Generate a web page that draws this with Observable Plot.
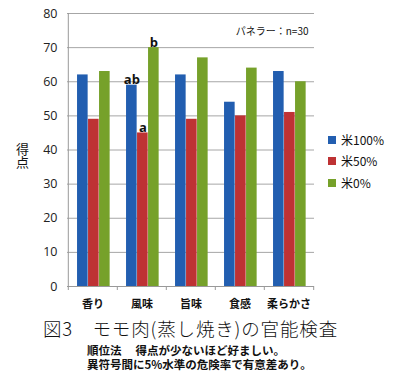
<!DOCTYPE html>
<html>
<head>
<meta charset="utf-8">
<script src="https://cdn.jsdelivr.net/npm/d3@7"></script>
<script src="https://cdn.jsdelivr.net/npm/@observablehq/plot@0.6"></script>
<style>
  html, body { margin: 0; padding: 0; background: #fff; }
  #wrap { position: relative; width: 399px; height: 392px; background: #fff; overflow: hidden;
          font-family: "Noto Sans CJK JP", "Noto Sans", sans-serif; color: #111; }
  #chart { position: absolute; left: 0; top: 0; }
  .abs { position: absolute; white-space: nowrap; }
  .leg { position: absolute; left: 328px; font-size: 12px; line-height: 14px; display: flex; align-items: center; }
  .leg span.sw { display: inline-block; width: 8px; height: 8px; margin-right: 5px; }
</style>
</head>
<body>
<div id="wrap">
  <div id="chart"></div>
  <div id="ylabel" class="abs" style="left:15px;top:143px;font-size:13px;line-height:14px;writing-mode:vertical-rl;text-orientation:upright;"></div>
  <div id="legend"></div>
  <div id="title" class="abs" style="left:43px;top:316px;font-size:18.5px;line-height:24px;font-weight:300;letter-spacing:0.85px;"></div>
  <div id="notes" class="abs" style="left:87px;top:343px;font-size:11.5px;line-height:14px;font-weight:bold;white-space:pre;"></div>
</div>
<script>
const categories = ["香り", "風味", "旨味", "食感", "柔らかさ"];
const seriesNames = ["米100%", "米50%", "米0%"];
const rice100 = [62, 59, 62, 54, 63];
const rice50 = [49, 45, 49, 50, 51];
const rice0 = [63, 70, 67, 64, 60];
const seriesColors = ["#225eb0", "#be3234", "#76a12a"];
const yTicks = [0, 10, 20, 30, 40, 50, 60, 70, 80];
const sigCats = ["風味", "風味", "風味"];
const sigSeries = ["米100%", "米50%", "米0%"];
const sigText = ["ab", "a", "b"];
const panelNote = "パネラー：n=30";
const yLabel = "得点";
const titleText = "図3\u3000モモ肉(蒸し焼き)の官能検査";
const note1Text = "順位法\u3000 得点が少ないほど好ましい。";
const note2Text = "異符号間に5%水準の危険率で有意差あり。";

const seriesValues = [rice100, rice50, rice0];
const rows = [];
seriesNames.forEach((s, si) => categories.forEach((c, ci) => rows.push({cat: c, series: s, si, value: seriesValues[si][ci]})));
const sigRows = sigText.map((t, i) => {
  const si = seriesNames.indexOf(sigSeries[i]);
  return {cat: sigCats[i], series: sigSeries[i], si, text: t, value: seriesValues[si][categories.indexOf(sigCats[i])]};
});

const W = 399, H = 315, mL = 67, mR = 85, mT = 13, mB = 29;
const step = (W - mL - mR) / categories.length;
const outer = 0.183, bw = 0.2227;

const marks = [
  Plot.gridY({ticks: yTicks, stroke: "#a6a6a6", strokeOpacity: 1}),
  Plot.axisY({ticks: yTicks, tickSize: 0, tickPadding: 10, label: null, fontSize: 12.5, fill: "#222",
              fontFamily: "'Open Sans', 'Liberation Sans', sans-serif"}),
];
seriesNames.forEach((s, si) => {
  marks.push(Plot.barY(rows.filter(d => d.si === si), {
    x: "cat", y: "value", fill: "series",
    insetLeft: step * (outer + si * bw),
    insetRight: step * (1 - outer - (si + 1) * bw)
  }));
  marks.push(Plot.text(sigRows.filter(d => d.si === si), {
    x: "cat", y: "value", text: "text",
    dx: step * (outer + (si + 0.5) * bw - 0.5), dy: -1,
    fontWeight: "bold", fontSize: 13, lineAnchor: "bottom", fill: "#111",
    fontFamily: "'Open Sans', 'Liberation Sans', sans-serif"
  }));
});
marks.push(
  Plot.ruleY([0], {stroke: "#999"}),
  Plot.ruleX([categories[0]], {dx: -step / 2, stroke: "#999"}),
  Plot.axisX({ticks: categories, tickSize: 4, dx: -step / 2, tickFormat: () => "", label: null, stroke: "#999"}),
  Plot.axisX({ticks: [categories[categories.length - 1]], tickSize: 4, dx: step / 2, tickFormat: () => "", label: null, stroke: "#999"}),
  Plot.axisX({ticks: categories, tickSize: 0, tickPadding: 14, label: null, fontSize: 11, fontWeight: "bold", fill: "#111"}),
  Plot.text([panelNote], {frameAnchor: "top-right", dx: -6, dy: 14, textAnchor: "end", fontSize: 10, fill: "#111"})
);

const chart = Plot.plot({
  width: W, height: H,
  marginLeft: mL, marginRight: mR, marginTop: mT, marginBottom: mB,
  style: {fontFamily: "'Noto Sans CJK JP', sans-serif", background: "#fff"},
  x: {type: "band", domain: categories, padding: 0, axis: null},
  y: {domain: [0, 80], axis: null},
  color: {domain: seriesNames, range: seriesColors},
  marks
});
document.getElementById("chart").appendChild(chart);

document.getElementById("ylabel").textContent = yLabel;
const legend = document.getElementById("legend");
const legTops = [133, 154, 176];
seriesNames.forEach((s, i) => {
  const d = document.createElement("div");
  d.className = "leg";
  d.style.top = legTops[i] + "px";
  d.innerHTML = `<span class="sw" style="background:${seriesColors[i]}"></span>${s}`;
  legend.appendChild(d);
});
document.getElementById("title").textContent = titleText;
document.getElementById("notes").textContent = note1Text + "\n" + note2Text;
</script>
</body>
</html>
